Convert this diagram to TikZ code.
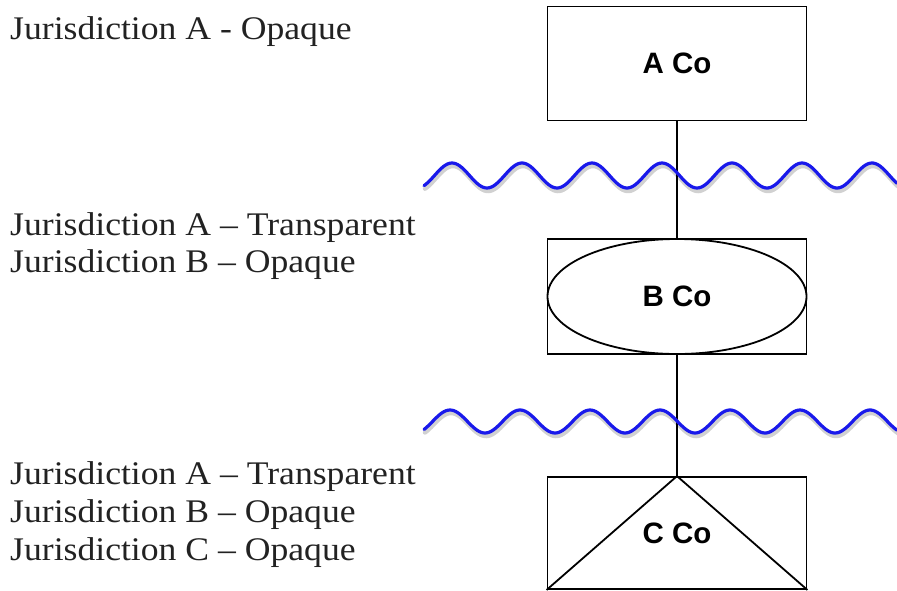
\documentclass[tikz,border=0pt]{standalone}
\usepackage{fontspec}
\setmainfont{Liberation Serif}
\newfontfamily\jfont[FakeStretch=1.08,Ligatures=TeX]{Liberation Serif}
\newfontfamily\cofont{Liberation Sans}
\usetikzlibrary{shapes.geometric}
\definecolor{wavecol}{RGB}{25,25,235}
\definecolor{txtcol}{RGB}{34,34,34}
\begin{document}
\begin{tikzpicture}[x=1pt,y=-1pt,
  cobox/.style={draw=black, line width=1.8pt, rectangle, minimum width=259pt, inner sep=0pt},
  colabel/.style={font=\cofont\bfseries\fontsize{29.5}{34}\selectfont, text=black},
  jlabel/.style={font=\jfont\fontsize{33}{38}\selectfont, text=txtcol, anchor=base west, inner sep=0pt},
  link/.style={draw=black, line width=1.8pt},
  wave/.style={draw=wavecol, line width=3.2pt, line cap=round},
  waveshadow/.style={draw=black, opacity=0.18, line width=4.5pt, line cap=round}]
\useasboundingbox (0,0) rectangle (897,590);

% labels
\node[jlabel] (j1) at (10,39) {Jurisdiction A - Opaque};
\node[jlabel] (j2a) at (10,235) {Jurisdiction A – Transparent};
\node[jlabel] (j2b) at (10,272.7) {Jurisdiction B – Opaque};
\node[jlabel] (j3a) at (10,484.3) {Jurisdiction A – Transparent};
\node[jlabel] (j3b) at (10,522) {Jurisdiction B – Opaque};
\node[jlabel] (j3c) at (10,560) {Jurisdiction C – Opaque};

% boxes
\node[cobox, minimum height=114pt] (abox) at (677,63.5) {};
\node[colabel] (alabel) at (abox.center) {A Co};

\node[cobox, minimum height=115pt] (bbox) at (677,296.5) {};
\node[draw=black, line width=1.8pt, ellipse, minimum width=259pt, minimum height=115pt, inner sep=0pt, colabel] (bell) at (bbox.center) {B Co};

\node[cobox, minimum height=112pt] (cbox) at (677,533) {};
\draw[link] (cbox.south west) -- (cbox.north) -- (cbox.south east);
\node[colabel] (clabel) at (cbox.center) {C Co};

% connectors
\draw[link] (abox.south) -- (bbox.north);
\draw[link] (bbox.south) -- (cbox.north);

% waves
\begin{scope}[shift={(1,3)}]
\draw[waveshadow] plot[domain=424:897, samples=240, smooth] (\x, {175.5-12.5*cos((\x-452)/70*360)});
\draw[waveshadow] plot[domain=424:897, samples=240, smooth] (\x, {421.5-11.5*cos((\x-450)/70*360)});
\end{scope}
\draw[wave] plot[domain=424:897, samples=240, smooth] (\x, {175.5-12.5*cos((\x-452)/70*360)});
\draw[wave] plot[domain=424:897, samples=240, smooth] (\x, {421.5-11.5*cos((\x-450)/70*360)});
\end{tikzpicture}
\end{document}
